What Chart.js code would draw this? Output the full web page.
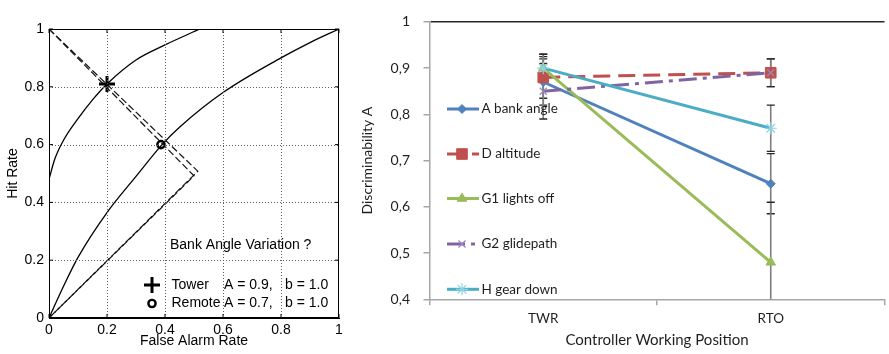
<!DOCTYPE html>
<html>
<head>
<meta charset="utf-8">
<script src="https://cdn.jsdelivr.net/npm/chart.js@4/dist/chart.umd.min.js"></script>
<style>
  html, body { margin: 0; padding: 0; background: #fff; }
  body { width: 889px; height: 354px; overflow: hidden; position: relative; }
  #roc { position: absolute; left: 0; top: 0; width: 350px; height: 354px; }
  #disc { position: absolute; left: 350px; top: 0; width: 543px; height: 354px; }
</style>
</head>
<body>
<div id="roc"><canvas id="rocChart"></canvas></div>
<div id="disc"><canvas id="discChart"></canvas></div>
<script>
// ---- left panel: ROC curves ----
const rocTowerFa   = [0, 0.02, 0.05, 0.1, 0.15, 0.2, 0.3, 0.4, 0.52];
const rocTowerHit  = [0.48, 0.55, 0.615, 0.69, 0.755, 0.81, 0.893, 0.945, 1.0];
const rocRemoteFa  = [0, 0.05, 0.1, 0.2, 0.3, 0.39, 0.45, 0.6, 0.8, 0.9, 1];
const rocRemoteHit = [0, 0.11, 0.21, 0.365, 0.49, 0.6, 0.66, 0.78, 0.9, 0.953, 1];
const isoTowerFa   = [0, 0.513, 0];
const isoTowerHit  = [1, 0.508, 0];
const isoRemoteFa  = [0, 0.5, 0];
const isoRemoteHit = [1, 0.492, 0];
const towerPoint   = [0.2, 0.81];
const remotePoint  = [0.386, 0.6];
const rocTicks     = [0, 0.2, 0.4, 0.6, 0.8, 1];

// ---- right panel: discriminability ----
const positions   = ['TWR', 'RTO'];
const seriesNames = ['A bank angle', 'D altitude', 'G1 lights off', 'G2 glidepath', 'H gear down'];
const bankAngle   = [0.87, 0.65];
const altitude    = [0.88, 0.89];
const lightsOff   = [0.90, 0.48];
const glidepath   = [0.85, 0.89];
const gearDown    = [0.90, 0.77];
const bankAngleErr = [0.05, 0.065];
const altitudeErr  = [0.045, 0.03];
const lightsOffErr = [0.03, 0.13];
const glidepathErr = [0.06, 0.03];
const gearDownErr  = [0.03, 0.05];

const seriesValues = [bankAngle, altitude, lightsOff, glidepath, gearDown];
const seriesErrors = [bankAngleErr, altitudeErr, lightsOffErr, glidepathErr, gearDownErr];

const toXY = (xs, ys) => xs.map((x, i) => ({ x: x, y: ys[i] }));

// ================= ROC chart =================
const rocFont = "'Liberation Sans', Arial, sans-serif";

const rocFrame = {
  id: 'rocFrame',
  afterDraw(chart) {
    const { ctx, chartArea: a, scales: { x, y } } = chart;
    ctx.save();

    // dotted grid
    ctx.strokeStyle = '#5e5e5e';
    ctx.lineWidth = 1;
    ctx.setLineDash([1, 2]);
    ctx.beginPath();
    rocTicks.slice(1, -1).forEach(v => {
      const px = Math.round(x.getPixelForValue(v)) + 0.5;
      const py = Math.round(y.getPixelForValue(v)) + 0.5;
      ctx.moveTo(px, a.top); ctx.lineTo(px, a.bottom);
      ctx.moveTo(a.left, py); ctx.lineTo(a.right, py);
    });
    ctx.stroke();
    ctx.setLineDash([]);

    ctx.strokeStyle = '#000';
    ctx.lineWidth = 1;
    ctx.strokeRect(a.left + 0.5, a.top + 0.5, a.width - 1, a.height - 1);
    // inward ticks like matlab
    ctx.beginPath();
    rocTicks.forEach(v => {
      const px = x.getPixelForValue(v), py = y.getPixelForValue(v);
      ctx.moveTo(px, a.bottom); ctx.lineTo(px, a.bottom - 4);
      ctx.moveTo(px, a.top); ctx.lineTo(px, a.top + 4);
      ctx.moveTo(a.left, py); ctx.lineTo(a.left + 4, py);
      ctx.moveTo(a.right, py); ctx.lineTo(a.right - 4, py);
    });
    ctx.stroke();

    // annotation + legend
    ctx.fillStyle = '#000';
    ctx.font = '14px ' + rocFont;
    ctx.textBaseline = 'middle';
    ctx.fillText('Bank Angle Variation ?', 170, 245);
    ctx.fillText('Tower', 171.5, 285);
    ctx.fillText('A = 0.9,', 224, 285);
    ctx.fillText('b = 1.0', 285, 285);
    ctx.fillText('Remote', 171.5, 303);
    ctx.fillText('A = 0.7,', 224, 303);
    ctx.fillText('b = 1.0', 285, 303);

    ctx.strokeStyle = '#000';
    ctx.lineWidth = 3;
    Chart.helpers.drawPoint(ctx, { pointStyle: 'cross', radius: 8, borderWidth: 3 }, 152, 285);
    ctx.fillStyle = '#fff';
    ctx.lineWidth = 2.4;
    Chart.helpers.drawPoint(ctx, { pointStyle: 'circle', radius: 3.6, borderWidth: 2.4 }, 152, 303.5);
    ctx.restore();
  }
};

const curveStyle = { borderColor: '#000', borderWidth: 1.3, pointRadius: 0, showLine: true, fill: false };
const isoStyle = { borderColor: '#111', borderWidth: 1.2, borderDash: [7, 3], pointRadius: 0, showLine: true, fill: false };

new Chart(document.getElementById('rocChart'), {
  type: 'scatter',
  data: {
    datasets: [
      Object.assign({ data: toXY(rocTowerFa, rocTowerHit), cubicInterpolationMode: 'monotone' }, curveStyle),
      Object.assign({ data: toXY(rocRemoteFa, rocRemoteHit), cubicInterpolationMode: 'monotone' }, curveStyle),
      Object.assign({ data: toXY(isoTowerFa, isoTowerHit) }, isoStyle),
      Object.assign({ data: toXY(isoRemoteFa, isoRemoteHit) }, isoStyle),
      {
        data: [{ x: towerPoint[0], y: towerPoint[1] }],
        pointStyle: 'cross', pointRadius: 8, pointBorderWidth: 3,
        pointBorderColor: '#000', showLine: false
      },
      {
        data: [{ x: remotePoint[0], y: remotePoint[1] }],
        pointStyle: 'circle', pointRadius: 3.6, pointBorderWidth: 2.4,
        pointBorderColor: '#000', pointBackgroundColor: 'rgba(255,255,255,0.6)', showLine: false
      }
    ]
  },
  options: {
    responsive: true,
    maintainAspectRatio: false,
    animation: false,
    events: [],
    layout: { padding: { top: 29, right: 11, left: 0, bottom: 0 } },
    plugins: { legend: { display: false }, tooltip: { enabled: false } },
    scales: {
      x: {
        type: 'linear', min: 0, max: 1,
        afterFit: s => { s.height = 36; },
        afterBuildTicks: s => { s.ticks = rocTicks.map(v => ({ value: v })); },
        ticks: {
          color: '#000', padding: 4, maxRotation: 0,
          font: { family: rocFont, size: 14 },
          callback: v => (v === 0 || v === 1) ? String(v) : Number(v).toFixed(1)
        },
        grid: { drawOnChartArea: false, drawTicks: false },
        border: { color: '#000', width: 1 },
        title: { display: true, text: 'False Alarm Rate', color: '#000', font: { family: rocFont, size: 14 }, padding: { top: 0, bottom: 4 } }
      },
      y: {
        type: 'linear', min: 0, max: 1,
        afterFit: s => { s.width = 49; },
        afterBuildTicks: s => { s.ticks = rocTicks.map(v => ({ value: v })); },
        ticks: {
          color: '#000', padding: 5,
          font: { family: rocFont, size: 14 },
          callback: v => (v === 0 || v === 1) ? String(v) : Number(v).toFixed(1)
        },
        grid: { drawOnChartArea: false, drawTicks: false },
        border: { color: '#000', width: 1 },
        title: { display: true, text: 'Hit Rate', color: '#000', font: { family: rocFont, size: 14 }, padding: { top: 4.6, bottom: 0 } }
      }
    }
  },
  plugins: [rocFrame]
});

// ================= Discriminability chart =================
const discFont = "Lato, 'Open Sans', sans-serif";
const textColor = '#1f1f1f';
const colors = ['#4F81BD', '#C0504D', '#9BBB59', '#8064A2', '#4BACC6'];
const dashes = [[], [17, 8], [], [18, 6, 4, 6], []];
const markers = [
  { pointStyle: 'rectRot', pointRadius: 4.5, pointBorderWidth: 1, pointBorderColor: colors[0], pointBackgroundColor: colors[0] },
  { pointStyle: 'rect', pointRadius: 7.5, pointBorderWidth: 1, pointBorderColor: colors[1], pointBackgroundColor: colors[1] },
  { pointStyle: 'triangle', pointRadius: 5.5, pointBorderWidth: 1, pointBorderColor: colors[2], pointBackgroundColor: colors[2] },
  { pointStyle: 'crossRot', pointRadius: 5, pointBorderWidth: 1.2, pointBorderColor: '#9c86bd', pointBackgroundColor: colors[3] },
  { pointStyle: 'star', pointRadius: 6, pointBorderWidth: 1.2, pointBorderColor: '#8fd3e6', pointBackgroundColor: colors[4] }
];

const errorBars = {
  id: 'errorBars',
  beforeDatasetsDraw(chart) {
    const { ctx, chartArea: a, scales: { x, y } } = chart;
    ctx.save();
    ctx.beginPath();
    ctx.rect(a.left, a.top, a.width, a.height);
    ctx.clip();
    seriesValues.forEach((vals, i) => {
      vals.forEach((v, j) => {
        const px = x.getPixelForValue(j);
        const top = y.getPixelForValue(v + seriesErrors[i][j]);
        const bot = y.getPixelForValue(v - seriesErrors[i][j]);
        ctx.strokeStyle = '#7f7f7f';
        ctx.lineWidth = 1.6;
        ctx.beginPath();
        ctx.moveTo(px, top); ctx.lineTo(px, bot);
        ctx.stroke();
        ctx.strokeStyle = '#262626';
        ctx.lineWidth = 1.4;
        ctx.beginPath();
        ctx.moveTo(px - 4, top); ctx.lineTo(px + 4, top);
        ctx.moveTo(px - 4, bot); ctx.lineTo(px + 4, bot);
        ctx.stroke();
      });
    });
    ctx.restore();
  }
};

const inlineLegend = {
  id: 'inlineLegend',
  afterDraw(chart) {
    const { ctx } = chart;
    const rowY = [109, 154, 198.5, 244, 289.3];
    ctx.save();
    ctx.font = '13.5px ' + discFont;
    ctx.textBaseline = 'middle';
    chart.data.datasets.forEach((ds, i) => {
      const yy = rowY[i];
      ctx.strokeStyle = ds.borderColor;
      ctx.lineWidth = 3;
      ctx.setLineDash(ds.borderDash || []);
      ctx.beginPath();
      ctx.moveTo(97, yy); ctx.lineTo(129, yy);
      ctx.stroke();
      ctx.setLineDash([]);
      ctx.fillStyle = ds.pointBackgroundColor;
      ctx.strokeStyle = ds.pointBorderColor;
      ctx.lineWidth = ds.pointBorderWidth;
      Chart.helpers.drawPoint(ctx, { pointStyle: ds.pointStyle, radius: ds.pointRadius, borderWidth: ds.pointBorderWidth }, 112, yy);
      ctx.fillStyle = textColor;
      ctx.fillText(ds.label, 131.5, yy);
    });
    ctx.restore();
  }
};

new Chart(document.getElementById('discChart'), {
  type: 'line',
  data: {
    labels: positions,
    datasets: seriesNames.map((name, i) => Object.assign({
      label: name,
      data: seriesValues[i],
      borderColor: colors[i],
      backgroundColor: colors[i],
      borderWidth: 3,
      borderDash: dashes[i],
      tension: 0,
      fill: false,
      order: seriesNames.length - i
    }, markers[i]))
  },
  options: {
    responsive: true,
    maintainAspectRatio: false,
    animation: false,
    events: [],
    layout: { padding: { top: 13, right: 0.5, left: 0, bottom: 0 } },
    plugins: { legend: { display: false }, tooltip: { enabled: false } },
    scales: {
      x: {
        type: 'category',
        offset: true,
        afterFit: s => { s.height = 54.7; },
        ticks: { color: textColor, padding: 5, font: { family: discFont, size: 13.5 } },
        grid: { offset: true, drawOnChartArea: false, tickLength: 6, color: '#a6a6a6', lineWidth: 1.5 },
        border: { color: '#a6a6a6', width: 1.5 },
        title: { display: true, text: 'Controller Working Position', color: textColor, font: { family: discFont, size: 15 }, padding: { top: 0, bottom: 5 } }
      },
      y: {
        min: 0.4, max: 1,
        afterFit: s => { s.width = 79.5; },
        ticks: {
          stepSize: 0.1, color: textColor, padding: 13.5,
          font: { family: discFont, size: 14 },
          callback: v => Math.abs(v - 1) < 1e-9 ? '1' : Number(v).toFixed(1).replace('.', ',')
        },
        grid: {
          color: c => (c.tick && Math.abs(c.tick.value - 1) < 1e-9) ? '#262626' : 'rgba(0,0,0,0)',
          lineWidth: 1.5,
          tickColor: '#a6a6a6',
          tickLength: 6
        },
        border: { color: '#a6a6a6', width: 1.5 },
        title: { display: true, text: 'Discriminability A', color: textColor, font: { family: discFont, size: 14 }, padding: { top: 8.6, bottom: 0 } }
      }
    }
  },
  plugins: [errorBars, inlineLegend]
});
</script>
</body>
</html>
